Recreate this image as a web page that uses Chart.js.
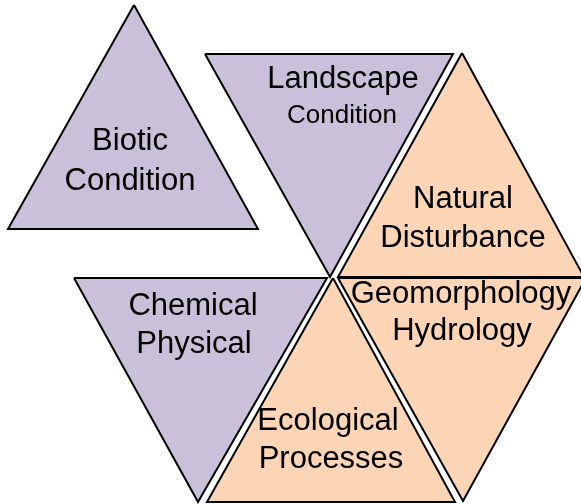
<!DOCTYPE html>
<html>
<head>
<meta charset="utf-8">
<script src="https://cdn.jsdelivr.net/npm/chart.js@4.4.1/dist/chart.umd.min.js"></script>
<style>
  html, body { margin: 0; padding: 0; background: #fff; }
  #wrap { width: 581px; height: 504px; }
</style>
</head>
<body>
<div id="wrap"><canvas id="diagram"></canvas></div>
<script>
// triangles of the framework, in a 581 x 504 unit plane (y grows downward)
var names = ['Biotic', 'Landscape', 'Natural', 'Chemical', 'Geomorphology', 'Ecological']
var groups = ['condition', 'condition', 'driver', 'condition', 'driver', 'driver']
var vertX = [
  [134, 8, 258],
  [205, 453, 330],
  [462, 338, 584],
  [74, 327, 198],
  [338, 586, 463],
  [333, 207, 455],
]
var vertY = [
  [5, 229, 229],
  [54, 54, 277],
  [53, 277, 277],
  [278, 278, 502],
  [278, 278, 501],
  [278, 502, 502],
]
// text inside each triangle (anchor = centre of the baseline)
var labelLines = [
  ['Biotic', 'Condition'],
  ['Landscape', 'Condition'],
  ['Natural', 'Disturbance'],
  ['Chemical', 'Physical'],
  ['Geomorphology', 'Hydrology'],
  ['Ecological', 'Processes'],
]
var labelX = [
  [130, 130],
  [343, 342],
  [463, 463],
  [193, 194],
  [461, 462],
  [328, 331],
]
var labelY = [
  [150, 190],
  [88, 123],
  [208, 247],
  [315, 353],
  [303, 340],
  [430, 468],
]

var groupColors = {
  condition: '#CBC0DA',
  driver: '#FBD5B5',
}

var datasets = names.map(function (name, i) {
  var pts = vertX[i].map(function (x, j) {
    return { x: x, y: vertY[i][j] }
  })
  pts.push(pts[0])
  return {
    label: name,
    data: pts,
    showLine: true,
    fill: 'shape',
    backgroundColor: groupColors[groups[i]],
    borderColor: '#000',
    borderWidth: 2,
    borderJoinStyle: 'miter',
    pointRadius: 0,
    tension: 0,
  }
})

var labelPlugin = {
  id: 'triLabels',
  afterDatasetsDraw: function (chart) {
    var ctx = chart.ctx
    var xs = chart.scales.x
    var ys = chart.scales.y
    ctx.save()
    ctx.fillStyle = '#000'
    ctx.textAlign = 'center'
    ctx.textBaseline = 'alphabetic'
    labelLines.forEach(function (lines, i) {
      lines.forEach(function (txt, j) {
        // the second word of Landscape Condition is set smaller
        var size = (i === 1 && j === 1) ? 26 : 31
        ctx.font = size + 'px "Liberation Sans", Arial, sans-serif'
        ctx.fillText(txt, xs.getPixelForValue(labelX[i][j]), ys.getPixelForValue(labelY[i][j]))
      })
    })
    ctx.restore()
  },
}

new Chart(document.getElementById('diagram'), {
  type: 'scatter',
  data: { datasets: datasets },
  options: {
    responsive: true,
    maintainAspectRatio: false,
    animation: false,
    layout: { padding: 0 },
    plugins: {
      legend: { display: false },
      tooltip: { enabled: false },
    },
    scales: {
      x: { type: 'linear', min: 0, max: 581, display: false },
      y: { type: 'linear', min: 0, max: 504, reverse: true, display: false },
    },
  },
  plugins: [labelPlugin],
})
</script>
</body>
</html>
